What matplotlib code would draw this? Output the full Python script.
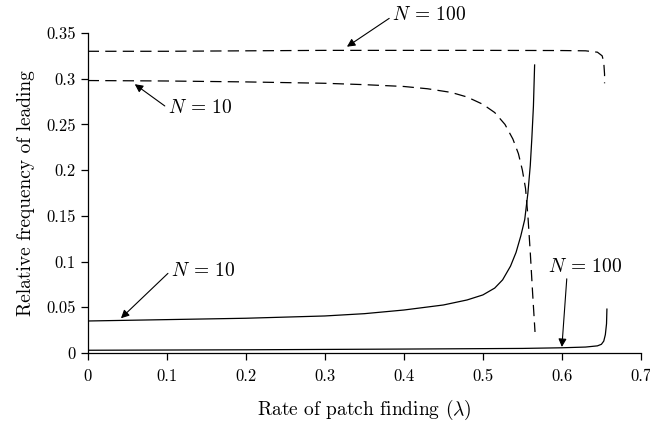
import matplotlib
matplotlib.use('Agg')
import matplotlib.pyplot as plt

plt.rcParams['font.family'] = 'serif'
plt.rcParams['font.serif'] = ['cmr10', 'DejaVu Serif']
plt.rcParams['mathtext.fontset'] = 'cm'
plt.rcParams['axes.formatter.use_mathtext'] = True

##### curves
# dashed, N = 100
x_d100 = [0, 0.1, 0.2, 0.3, 0.4, 0.5, 0.6, 0.63, 0.645, 0.651, 0.653, 0.654, 0.654]
y_d100 = [0.330, 0.330, 0.3305, 0.331, 0.331, 0.331, 0.3308, 0.3305, 0.329, 0.325, 0.318, 0.305, 0.295]

# dashed, N = 10
x_d10 = [0, 0.1, 0.2, 0.3, 0.35, 0.4, 0.43, 0.46, 0.48, 0.5, 0.515, 0.528, 0.538,
         0.545, 0.55, 0.554, 0.557, 0.56, 0.563, 0.566]
y_d10 = [0.298, 0.2975, 0.2965, 0.295, 0.2935, 0.2915, 0.289, 0.285, 0.280, 0.272, 0.263,
         0.250, 0.234, 0.218, 0.200, 0.180, 0.150, 0.110, 0.065, 0.023]

# solid, N = 10
x_s10 = [0, 0.1, 0.2, 0.3, 0.35, 0.4, 0.45, 0.48, 0.5, 0.515, 0.525, 0.535, 0.542,
         0.548, 0.553, 0.557, 0.56, 0.562, 0.564, 0.5655]
y_s10 = [0.035, 0.0365, 0.038, 0.0405, 0.043, 0.047, 0.0525, 0.058, 0.0635, 0.071, 0.080,
         0.095, 0.110, 0.128, 0.146, 0.175, 0.205, 0.235, 0.27, 0.315]

# solid, N = 100
x_s100 = [0, 0.2, 0.4, 0.55, 0.6, 0.63, 0.645, 0.65, 0.653, 0.655, 0.6565, 0.657]
y_s100 = [0.003, 0.0035, 0.0043, 0.005, 0.0057, 0.0065, 0.0078, 0.0095, 0.013, 0.02, 0.032, 0.048]

xticks = [0, 0.1, 0.2, 0.3, 0.4, 0.5, 0.6, 0.7]
xtick_labels = ['0', '0.1', '0.2', '0.3', '0.4', '0.5', '0.6', '0.7']
yticks = [0, 0.05, 0.1, 0.15, 0.2, 0.25, 0.3, 0.35]
ytick_labels = ['0', '0.05', '0.1', '0.15', '0.2', '0.25', '0.3', '0.35']

fig = plt.figure(figsize=(6.5, 4.23), dpi=100)
ax = fig.add_axes([0.135, 0.1655, 0.851, 0.7565])

l1, = ax.plot(x_d100, y_d100, c='black', lw=0.9)
l1.set_dashes([9, 5])
l2, = ax.plot(x_d10, y_d10, c='black', lw=0.9)
l2.set_dashes([9, 5])
ax.plot(x_s10, y_s10, c='black', lw=0.9)
ax.plot(x_s100, y_s100, c='black', lw=0.9)

ax.set_xlim(0, 0.7)
ax.set_ylim(0, 0.35)
ax.set_xticks(xticks)
ax.set_xticklabels(xtick_labels)
ax.set_yticks(yticks)
ax.set_yticklabels(ytick_labels)
ax.tick_params(direction='out', length=5, width=0.9, labelsize=12)
ax.tick_params(axis='x', pad=6)
ax.spines['top'].set_visible(False)
ax.spines['right'].set_visible(False)
ax.spines['left'].set_linewidth(0.9)
ax.spines['bottom'].set_linewidth(0.9)

ax.set_xlabel(r'Rate of patch finding ($\lambda$)', fontsize=14, labelpad=10)
ax.set_ylabel('Relative frequency of leading', fontsize=14, labelpad=8)

arr = dict(arrowstyle='-|>', color='black', lw=0.8, mutation_scale=12, shrinkA=0, shrinkB=0)

ax.annotate(r'$N$ = 100', xy=(0.328, 0.335), xytext=(0.385, 0.37), fontsize=14,
            ha='left', va='center', annotation_clip=False,
            arrowprops=dict(arr, relpos=(0, 0.4)))
ax.annotate(r'$N$ = 10', xy=(0.0595, 0.294), xytext=(0.101, 0.268), fontsize=14,
            ha='left', va='center',
            arrowprops=dict(arr, relpos=(0, 0.5)))
ax.annotate(r'$N$ = 10', xy=(0.042, 0.038), xytext=(0.105, 0.09), fontsize=14,
            ha='left', va='center',
            arrowprops=dict(arr, relpos=(0, 0.5)))
ax.annotate(r'$N$ = 100', xy=(0.6, 0.0066), xytext=(0.583, 0.094), fontsize=14,
            ha='left', va='center',
            arrowprops=dict(arr, relpos=(0.25, 0.0)))

fig.savefig('out.png', dpi=100)
